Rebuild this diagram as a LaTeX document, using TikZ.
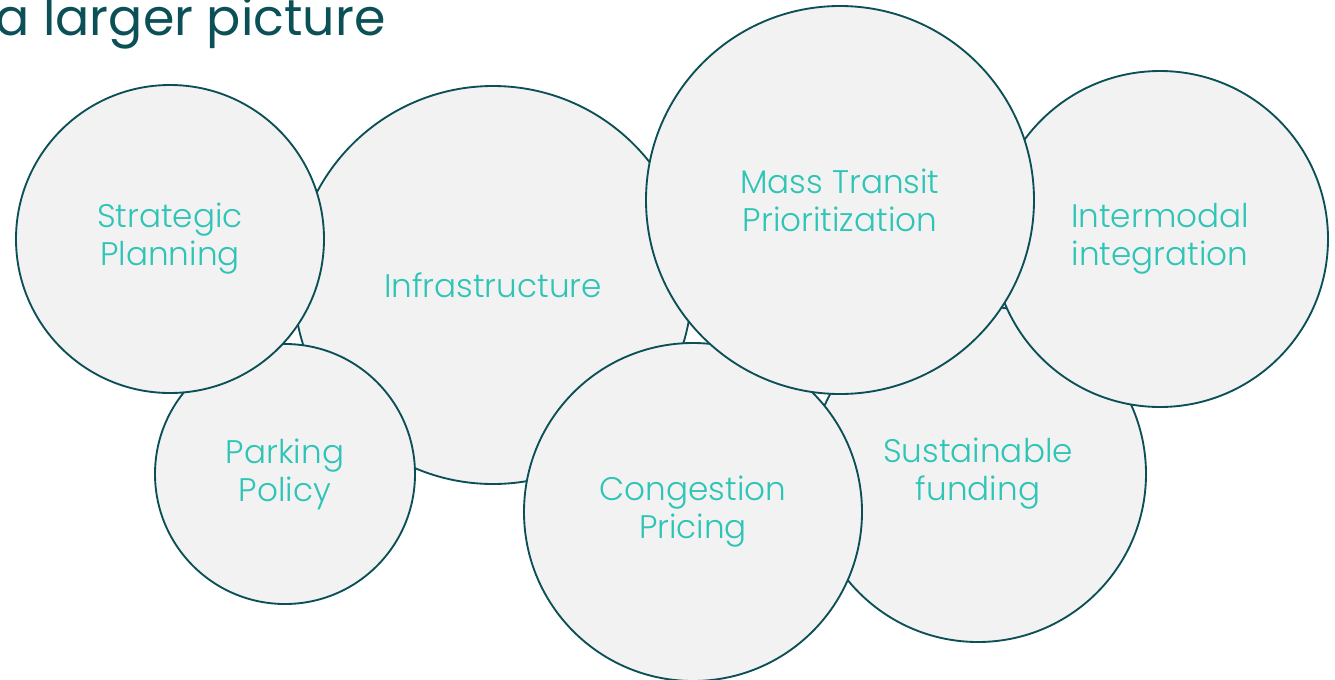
\documentclass[tikz,border=0pt]{standalone}
\usepackage{fontspec}
\setmainfont{Poppins}[UprightFont={* Light}]
\newfontfamily\titlefont{Poppins}
\definecolor{rimTeal}{RGB}{12,80,87}
\definecolor{textTeal}{RGB}{46,196,182}
\definecolor{bubbleFill}{RGB}{242,242,242}
\tikzset{every picture/.style={line width=0.75pt}}

\begin{document}
\begin{tikzpicture}[x=0.75pt,y=0.75pt,yscale=-1,xscale=1,
  bubble/.style={circle,draw=rimTeal,fill=bubbleFill,line width=1.4pt,inner sep=0pt,
    align=center,text=textTeal,font=\fontsize{24.5}{28.5}\selectfont}]
\useasboundingbox (0,0) rectangle (1335,679);

% Title Node
\draw (386,35) node [anchor=base east][inner sep=0pt] [text=rimTeal,font=\titlefont\fontsize{38}{42}\selectfont] (title) {a larger picture};

%Shape: Circle [Infrastructure]
\node [bubble,minimum size=298.5pt] (infra) at (493,285) {Infrastructure};
%Shape: Circle [Parking Policy]
\node [bubble,minimum size=195pt] (parking) at (285,474) {Parking\\Policy};
%Shape: Circle [Strategic Planning]
\node [bubble,minimum size=231pt] (strategic) at (170,239) {Strategic\\Planning};
%Shape: Circle [Sustainable funding]
\node [bubble,minimum size=252pt] (funding) at (978,474) {Sustainable\\funding};
%Shape: Circle [Intermodal integration]
\node [bubble,minimum size=252pt] (intermodal) at (1160,239) {Intermodal\\integration};
%Shape: Circle [Congestion Pricing]
\node [bubble,minimum size=253.5pt] (congestion) at (693,512) {Congestion\\Pricing};
%Shape: Circle [Mass Transit Prioritization]
\node [bubble,minimum size=291pt] (transit) at (840,200) {Mass Transit\\Prioritization};
\end{tikzpicture}
\end{document}
